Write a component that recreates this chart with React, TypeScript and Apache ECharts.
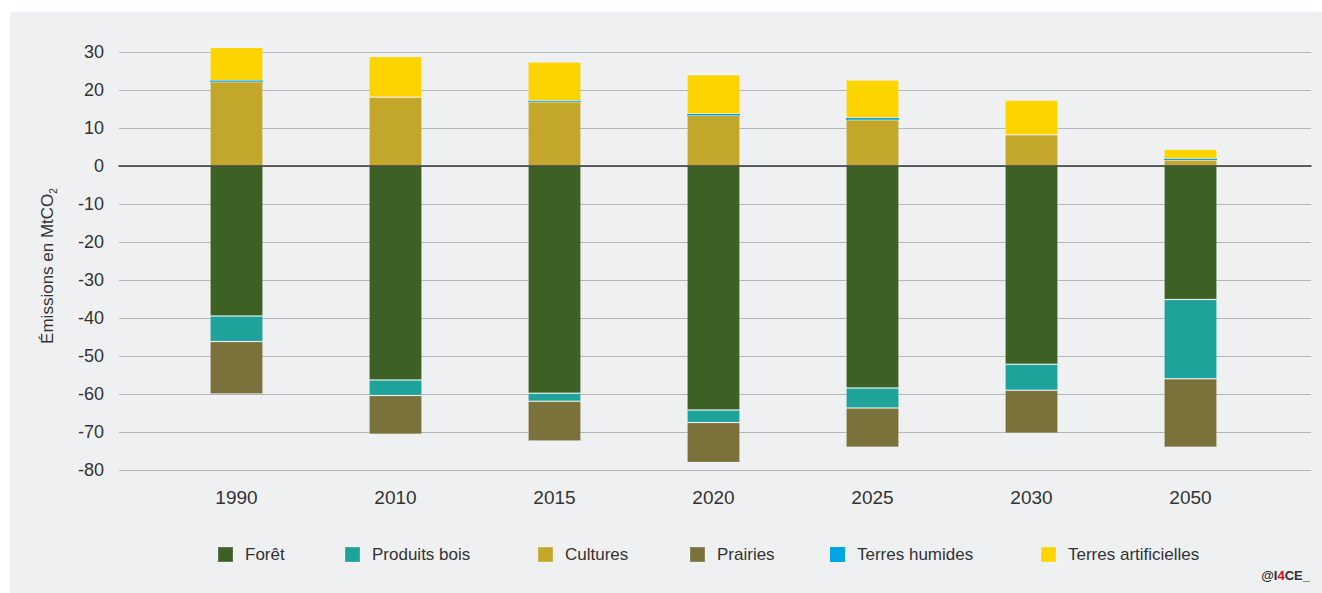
import React, { useEffect, useRef } from "react";
import * as echarts from "echarts";

const years = ["1990", "2010", "2015", "2020", "2025", "2030", "2050"];
const foret = [-39.5, -56.3, -59.8, -64.2, -58.4, -52.2, -35.1];
const produitsBois = [-6.7, -4.1, -2.1, -3.3, -5.3, -6.8, -20.9];
const cultures = [22.2, 18.1, 16.9, 13.3, 12.2, 8.2, 1.6];
const prairies = [-13.8, -10.2, -10.5, -10.5, -10.3, -11.3, -18.0];
const terresHumides = [0.3, 0, 0.3, 0.4, 0.4, 0, 0.3];
const terresArtificielles = [8.7, 10.7, 10.2, 10.3, 10.0, 9.1, 2.5];

const seriesNames = ["Forêt", "Produits bois", "Cultures", "Prairies", "Terres humides", "Terres artificielles"];
const seriesData = [foret, produitsBois, cultures, prairies, terresHumides, terresArtificielles];
const colors = ["#3d6125", "#1ea39b", "#c2a72a", "#7b713b", "#00a6e3", "#fdd400"];
const legendLefts = [217, 344, 537, 689, 830, 1040];

const FONT = "'Liberation Sans', Arial, Helvetica, sans-serif";

export default function App() {
  const ref = useRef<HTMLDivElement>(null);
  useEffect(() => {
    document.body.style.margin = "0";
    const chart = echarts.init(ref.current!, null, { renderer: "svg" });
    const top = 52;
    const bottom = 123;
    const option: any = {
      animation: false,
      backgroundColor: "#ffffff",
      textStyle: { fontFamily: FONT },
      graphic: [
        {
          type: "rect",
          z: -10,
          silent: true,
          shape: { x: 10, y: 12, width: 1312, height: 581 },
          style: { fill: "#eff0f2" },
        },
        {
          type: "text",
          x: 47,
          y: 266,
          rotation: Math.PI / 2,
          style: {
            text: "{a|Émissions en MtCO}{b|2}",
            align: "center",
            verticalAlign: "middle",
            fill: "#333",
            rich: {
              a: { fontSize: 17, fontFamily: FONT, fill: "#333", lineHeight: 22, verticalAlign: "middle" },
              b: { fontSize: 10, fontFamily: FONT, fill: "#333", lineHeight: 22, verticalAlign: "bottom", padding: [6, 0, 0, 0] },
            },
          },
        },
        {
          type: "text",
          right: 12,
          top: 569,
          style: {
            text: "{a|@I}{r|4}{a|CE_}",
            rich: {
              a: { fontSize: 13, fontWeight: "bold", fontFamily: FONT, fill: "#333" },
              r: { fontSize: 13, fontWeight: "bold", fontFamily: FONT, fill: "#e30613" },
            },
          },
        },
      ],
      grid: [
        { left: 157, right: 52, top, bottom },
        { left: 119, right: 11, top, bottom },
      ],
      legend: seriesNames.map((n, i) => ({
        data: [n],
        left: legendLefts[i],
        top: 546,
        padding: 0,
        icon: "rect",
        itemWidth: 15,
        itemHeight: 15,
        selectedMode: false,
        textStyle: { fontSize: 17, color: "#333", fontFamily: FONT, padding: [0, 0, 0, 7] },
      })),
      xAxis: [
        {
          type: "category",
          gridIndex: 0,
          data: years,
          axisLine: { show: false },
          axisTick: { show: false },
          axisLabel: { fontSize: 19, color: "#333", margin: 18, fontFamily: FONT },
        },
        {
          type: "value",
          gridIndex: 1,
          min: 0,
          max: 1,
          axisLine: { show: true, onZero: true, lineStyle: { color: "#333", width: 1.5 } },
          axisTick: { show: false },
          axisLabel: { show: false },
          splitLine: { show: false },
          z: 5,
        },
      ],
      yAxis: [
        {
          type: "value",
          gridIndex: 0,
          min: -80,
          max: 30,
          interval: 10,
          show: false,
          splitLine: { show: false },
        },
        {
          type: "value",
          gridIndex: 1,
          min: -80,
          max: 30,
          interval: 10,
          axisLine: { show: false },
          axisTick: { show: false },
          axisLabel: { fontSize: 18, color: "#333", margin: 15, fontFamily: FONT },
          splitLine: { show: true, lineStyle: { color: "#b4b5b7", width: 1.2 } },
        },
      ],
      series: seriesNames.map((n, i) => ({
        name: n,
        type: "bar",
        xAxisIndex: 0,
        yAxisIndex: 0,
        stack: "total",
        barWidth: 53,
        clip: false,
        data: seriesData[i],
        itemStyle: {
          color: colors[i],
          borderColor: "rgba(255,255,255,0.15)",
          borderWidth: n === "Terres humides" ? 0 : 1,
        },
        z: 3,
      })),
    };
    chart.setOption(option);
    return () => chart.dispose();
  }, []);
  return <div ref={ref} style={{ position: "absolute", left: 0, top: 0, width: 1322, height: 593 }} />;
}
